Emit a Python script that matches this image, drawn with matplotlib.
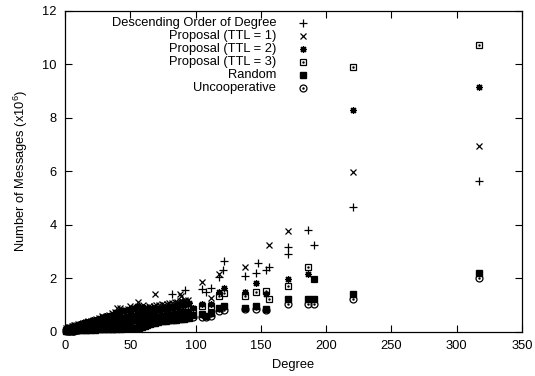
import matplotlib
matplotlib.use("Agg")
import matplotlib.pyplot as plt

plt.rcParams['font.family'] = ['Liberation Sans', 'DejaVu Sans']
plt.rcParams['mathtext.default'] = 'regular'

# dense part of the cloud (low degrees), one value per series
deg_dense = [1, 2, 3, 4, 5, 6, 7, 8, 9, 10, 12, 14, 16, 18, 20, 22, 24, 26, 28, 30,
             32, 34, 36, 38, 40, 42, 44, 46, 48, 50, 52, 54, 56, 58, 60, 62, 64, 66,
             68, 70, 72, 74, 76, 78, 80, 82, 84, 86, 88, 90, 92, 94]

uncoop_dense = [0.01, 0.02, 0.02, 0.03, 0.03, 0.04, 0.04, 0.05, 0.05, 0.06, 0.09, 0.11,
                0.12, 0.13, 0.15, 0.16, 0.18, 0.19, 0.2, 0.21, 0.23, 0.24, 0.25, 0.27,
                0.28, 0.29, 0.31, 0.31, 0.33, 0.34, 0.36, 0.36, 0.38, 0.4, 0.4, 0.42,
                0.43, 0.44, 0.46, 0.46, 0.48, 0.49, 0.5, 0.52, 0.52, 0.54, 0.55, 0.57,
                0.57, 0.58, 0.6, 0.61]
random_dense = [0.04, 0.05, 0.06, 0.06, 0.07, 0.08, 0.09, 0.09, 0.1, 0.11, 0.12, 0.14,
                0.15, 0.17, 0.18, 0.2, 0.21, 0.23, 0.24, 0.26, 0.27, 0.29, 0.3, 0.31,
                0.33, 0.34, 0.36, 0.37, 0.39, 0.4, 0.42, 0.43, 0.44, 0.46, 0.47, 0.49,
                0.5, 0.52, 0.53, 0.54, 0.56, 0.57, 0.59, 0.6, 0.62, 0.63, 0.65, 0.66,
                0.67, 0.69, 0.7, 0.72]
ttl3_dense = [0.06, 0.07, 0.08, 0.08, 0.09, 0.1, 0.11, 0.12, 0.13, 0.14, 0.15, 0.17,
              0.19, 0.2, 0.22, 0.24, 0.25, 0.27, 0.29, 0.31, 0.32, 0.34, 0.36, 0.37,
              0.39, 0.41, 0.42, 0.44, 0.46, 0.47, 0.49, 0.51, 0.53, 0.54, 0.56, 0.58,
              0.59, 0.61, 0.63, 0.64, 0.66, 0.68, 0.7, 0.71, 0.73, 0.75, 0.76, 0.78,
              0.8, 0.81, 0.83, 0.85]
ttl2_dense = [0.07, 0.08, 0.09, 0.1, 0.11, 0.12, 0.13, 0.14, 0.15, 0.17, 0.19, 0.21,
              0.23, 0.25, 0.27, 0.29, 0.31, 0.33, 0.36, 0.38, 0.4, 0.42, 0.46, 0.47,
              0.55, 0.52, 0.53, 0.56, 0.58, 0.62, 0.6, 0.63, 0.7, 0.66, 0.69, 0.71,
              0.73, 0.76, 0.78, 0.8, 0.82, 0.84, 0.86, 0.88, 0.9, 0.92, 0.94, 0.97,
              0.99, 1.01, 1.03, 1.05]
desc_dense = [0.1, 0.11, 0.12, 0.14, 0.15, 0.16, 0.17, 0.18, 0.2, 0.21, 0.22, 0.24,
              0.26, 0.28, 0.3, 0.32, 0.34, 0.36, 0.38, 0.4, 0.42, 0.44, 0.46, 0.48,
              0.5, 0.52, 0.54, 0.56, 0.58, 0.6, 0.63, 0.65, 0.67, 0.69, 0.71, 0.74,
              0.76, 0.78, 0.8, 0.82, 0.85, 0.87, 0.89, 0.91, 0.93, 0.96, 0.98, 1.0,
              1.02, 1.04, 1.07, 1.09]
ttl1_dense = [0.15, 0.16, 0.18, 0.19, 0.2, 0.22, 0.23, 0.24, 0.26, 0.27, 0.3, 0.32,
              0.35, 0.38, 0.4, 0.43, 0.46, 0.52, 0.58, 0.55, 0.6, 0.62, 0.7, 0.72,
              0.88, 0.9, 0.75, 0.8, 0.85, 0.95, 0.82, 0.9, 1.1, 0.9, 1.0, 0.92,
              0.95, 0.9, 0.96, 0.98, 1.0, 1.02, 1.0, 1.05, 1.06, 1.08, 1.1, 1.12,
              1.14, 1.16, 1.18, 1.2]

# second node at each odd degree: one low (Random), one high (TTL = 2)
deg_dense2 = [11, 13, 15, 17, 19, 21, 23, 25, 27, 29, 31, 33, 35, 37, 39, 41, 43, 45,
              47, 49, 51, 53, 55, 57, 59, 61, 63, 65, 67, 69, 71, 73, 75, 77, 79, 81,
              83, 85, 87, 89, 91, 93, 95]
random_low = [0.05, 0.06, 0.05, 0.07, 0.06, 0.08, 0.07, 0.08, 0.09, 0.08, 0.1, 0.09,
              0.1, 0.11, 0.1, 0.12, 0.11, 0.12, 0.13, 0.12, 0.14, 0.13, 0.15, 0.14,
              0.16, 0.2, 0.24, 0.28, 0.31, 0.34, 0.36, 0.38, 0.4, 0.41, 0.42, 0.43,
              0.44, 0.45, 0.46, 0.47, 0.48, 0.5, 0.52]
ttl2_high = [0.3, 0.32, 0.35, 0.37, 0.4, 0.42, 0.45, 0.48, 0.52, 0.55,
             0.57, 0.6, 0.63, 0.66, 0.72, 0.75, 0.8, 0.78, 0.82, 0.85,
             0.84, 0.88, 0.95, 0.9, 0.92, 0.88, 0.9, 0.86, 0.88, 0.9,
             0.86, 0.85, 0.88, 0.87, 0.9, 0.92, 0.9, 0.95, 0.98, 1.05,
             1.1, 1.05, 1.08]

# sparse nodes with high degree
desc_deg = [82, 92, 105, 108, 112, 118, 121, 122, 138, 146, 148, 154, 156, 171, 171, 186, 191, 221, 317]
desc_val = [1.41, 1.57, 1.6, 1.47, 1.64, 2.04, 2.29, 2.64, 2.08, 2.19, 2.56, 2.31, 2.42, 3.16, 2.9, 3.82, 3.26, 4.66, 5.65]
ttl1_deg = [69, 88, 89, 105, 112, 118, 138, 156, 171, 221, 317]
ttl1_val = [1.41, 1.41, 1.35, 1.87, 1.26, 2.16, 2.41, 3.26, 3.76, 5.97, 6.95]
ttl2_deg = [90, 98, 105, 112, 118, 122, 138, 146, 154, 171, 186, 191, 221, 317]
ttl2_val = [1.1, 0.9, 1.02, 1.05, 1.5, 1.62, 1.47, 1.81, 1.4, 1.97, 2.16, 1.97, 8.29, 9.14]
ttl3_deg = [90, 98, 105, 112, 118, 122, 138, 146, 154, 156, 171, 186, 191, 221, 317]
ttl3_val = [0.95, 0.85, 0.97, 0.97, 1.35, 1.45, 1.35, 1.47, 1.51, 1.22, 1.72, 2.41, 1.97, 9.91, 10.72]
random_deg = [98, 105, 108, 112, 118, 122, 138, 146, 154, 171, 186, 191, 221, 317]
random_val = [0.62, 0.66, 0.6, 0.7, 0.88, 0.95, 0.89, 0.95, 0.85, 1.22, 1.22, 1.22, 1.39, 2.21]
uncoop_deg = [98, 105, 108, 112, 118, 122, 138, 146, 154, 171, 186, 191, 221, 317]
uncoop_val = [0.55, 0.56, 0.54, 0.6, 0.78, 0.82, 0.85, 0.86, 0.8, 1.05, 1.05, 1.05, 1.22, 1.99]

labels = ['Descending Order of Degree', 'Proposal (TTL = 1)', 'Proposal (TTL = 2)',
          'Proposal (TTL = 3)', 'Random', 'Uncooperative']

fig = plt.figure(figsize=(5.35, 3.76), dpi=100)
ax = fig.add_axes([0.1215, 0.118, 0.854, 0.853])

fs = 9.3
ms = 5
lw = 0.9
styles = [
    dict(marker='+', color='black', ms=ms + 1, mew=lw),
    dict(marker='x', color='black', ms=ms, mew=lw),
    dict(marker=(8, 2, 0), color='black', ms=ms, mew=lw),
    dict(marker='s', mfc='none', mec='black', ms=ms, mew=lw),
    dict(marker='s', color='black', ms=ms),
    dict(marker='o', mfc='none', mec='black', ms=ms, mew=lw),
]
dotted = [False, False, False, True, False, True]

series = [
    (deg_dense + desc_deg, desc_dense + desc_val),
    (deg_dense + ttl1_deg, ttl1_dense + ttl1_val),
    (deg_dense + deg_dense2 + ttl2_deg, ttl2_dense + ttl2_high + ttl2_val),
    (deg_dense + ttl3_deg, ttl3_dense + ttl3_val),
    (deg_dense + deg_dense2 + random_deg, random_dense + random_low + random_val),
    (deg_dense + uncoop_deg, uncoop_dense + uncoop_val),
]

for (xs, ys), st, dot in zip(series, styles, dotted):
    ax.plot(xs, ys, ls='none', clip_on=False, **st)
    if dot:
        ax.plot(xs, ys, ls='none', marker='.', ms=1.5, color='black', clip_on=False)

# legend drawn by hand: right aligned text, marker on the right
for i, (lab, st, dot) in enumerate(zip(labels, styles, dotted)):
    y = 0.963 - i * 0.0405
    ax.text(0.462, y, lab, transform=ax.transAxes, ha='right', va='center', fontsize=fs)
    ax.plot([0.521], [y], transform=ax.transAxes, ls='none', clip_on=False, **st)
    if dot:
        ax.plot([0.521], [y], transform=ax.transAxes, ls='none', marker='.', ms=1.5,
                color='black', clip_on=False)

ax.set_xlim(0, 350)
ax.set_ylim(0, 12)
ax.set_xticks(range(0, 351, 50))
ax.set_yticks(range(0, 13, 2))
ax.tick_params(direction='in', top=True, right=True, length=5, width=0.8, labelsize=fs)
ax.tick_params(axis='x', pad=6)
ax.tick_params(axis='y', pad=6)
for s in ax.spines.values():
    s.set_linewidth(0.9)
ax.set_xlabel('Degree', fontsize=fs, labelpad=5)
ax.set_ylabel('Number of Messages (x10$^6$)', fontsize=fs, labelpad=9)

plt.savefig('out.png', dpi=100)
